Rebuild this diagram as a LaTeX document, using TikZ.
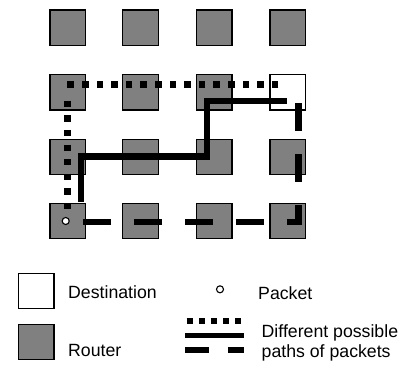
\documentclass[tikz,border=0pt]{standalone}
\usepackage{fontspec}
\setmainfont{Liberation Sans}
\begin{document}
\begin{tikzpicture}[x=1pt,y=-1pt,
  router/.style={draw=black,line width=1.2pt,fill=black!50,minimum size=35.5pt,inner sep=0pt},
  dest/.style={router,fill=white},
  lbl/.style={anchor=west,inner sep=0pt,font=\fontsize{17.7}{20}\selectfont},
  dotpath/.style={line width=6.7pt,dash pattern=on 6.6pt off 8pt},
  solidpath/.style={line width=6.7pt,line join=miter},
  dashpath/.style={line width=6.5pt,dash pattern=on 28pt off 23pt,line join=miter},
  packet/.style={circle,draw=black,line width=1.1pt,fill=white,minimum size=7pt,inner sep=0pt}]
\useasboundingbox (0,0) rectangle (412,368);
% grid of routers
\foreach \c/\x in {1/67.7,2/140.5,3/214.3,4/287.7}{
  \foreach \r/\y in {1/27.7,2/92.3,3/157,4/221}{
    \ifnum\c=4 \ifnum\r=2
      \node[dest] (r\r\c) at (\x,\y) {};
    \else
      \node[router] (r\r\c) at (\x,\y) {};
    \fi\else
      \node[router] (r\r\c) at (\x,\y) {};
    \fi
  }
}
% dotted path
\coordinate (d1) at (278.3,84.3);
\coordinate (d2) at (67.3,84.3);
\coordinate (d3) at (67.5,100.7);
\coordinate (d4) at (67.5,210);
\draw[dotpath] (d1) -- (d2);
\draw[dotpath,dash pattern=on 6.2pt off 8.4pt] (d3) -- (d4);
% solid path
\coordinate (s1) at (81,202);
\coordinate (s2) at (81,156.3);
\coordinate (s3) at (207,156.3);
\coordinate (s4) at (207,101);
\coordinate (s5) at (287,101);
\draw[solidpath] (s1) -- (s2) -- (s3) -- (s4) -- (s5);
% dashed path
\coordinate (h1) at (298.7,103.3);
\coordinate (h2) at (298.7,221.8);
\coordinate (h3) at (77.3,221.8);
\draw[dashpath] (h1) -- (h2) -- (h3);
% packet
\node[packet] (pk) at (65.7,221) {};
% legend
\node[dest] (ldest) at (36.2,291) {};
\node[router] (lrout) at (36.2,342) {};
\node[lbl] (tdest) at (68,292.5) {Destination};
\node[lbl] (trout) at (68,350.5) {Router};
\node[packet] (lpk) at (220,289.3) {};
\node[lbl] (tpk) at (258,293.5) {Packet};
\coordinate (l1a) at (186.7,321);
\coordinate (l1b) at (243,321);
\draw[line width=5.7pt,dash pattern=on 6pt off 6.1pt] (l1a) -- (l1b);
\coordinate (l2a) at (185,335.2);
\coordinate (l2b) at (244,335.2);
\draw[line width=5pt] (l2a) -- (l2b);
\coordinate (l3a) at (185,349.7);
\coordinate (l3b) at (244,349.7);
\draw[line width=6pt,dash pattern=on 24.3pt off 18.4pt] (l3a) -- (l3b);
\node[lbl] (tpath1) at (261.5,333.3) {Different possible};
\node[lbl] (tpath2) at (261.5,353.3) {paths of packets};
\end{tikzpicture}
\end{document}
